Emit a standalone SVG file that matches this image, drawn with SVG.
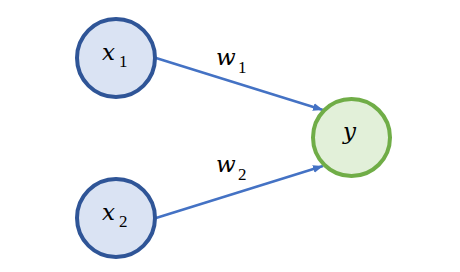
<svg xmlns="http://www.w3.org/2000/svg" width="460" height="272" viewBox="0 0 460 272">
<defs>
<style>
.in{fill:#DAE3F3;stroke:#2F5597;stroke-width:4}
.out{fill:#E2F0D9;stroke:#70AD47;stroke-width:4}
.edge{stroke:#4472C4;stroke-width:2.5;fill:none}
.v{font-family:"DejaVu Serif","Liberation Serif",serif;font-style:italic;font-size:23px;fill:#000}
.s{font-family:"Liberation Serif","DejaVu Serif",serif;font-style:normal;font-size:17px;fill:#000}
</style>
<marker id="ah" viewBox="0 0 10 8" refX="10" refY="4" markerWidth="10" markerHeight="8" markerUnits="userSpaceOnUse" orient="auto">
<path d="M0,0 L10,4 L0,8 Z" fill="#4472C4"/>
</marker>
</defs>
<rect width="460" height="272" fill="#fff"/>
<g id="connectors">
<line class="edge" x1="156" y1="58" x2="323" y2="110" marker-end="url(#ah)"/>
<line class="edge" x1="156" y1="218" x2="323" y2="166" marker-end="url(#ah)"/>
<text class="v" x="216" y="65">w</text><text class="s" x="238" y="73">1</text>
<text class="v" x="216" y="172">w</text><text class="s" x="238" y="180">2</text>
</g>
<g id="x1">
<circle class="in" cx="116" cy="58" r="39"/>
<text class="v" x="102" y="60">x</text><text class="s" x="119" y="67">1</text>
</g>
<g id="x2">
<circle class="in" cx="116" cy="218" r="39"/>
<text class="v" x="102" y="220">x</text><text class="s" x="119" y="227">2</text>
</g>
<g id="y">
<circle class="out" cx="351.5" cy="137.5" r="38.5"/>
<text class="v" x="343" y="139">y</text>
</g>
</svg>
